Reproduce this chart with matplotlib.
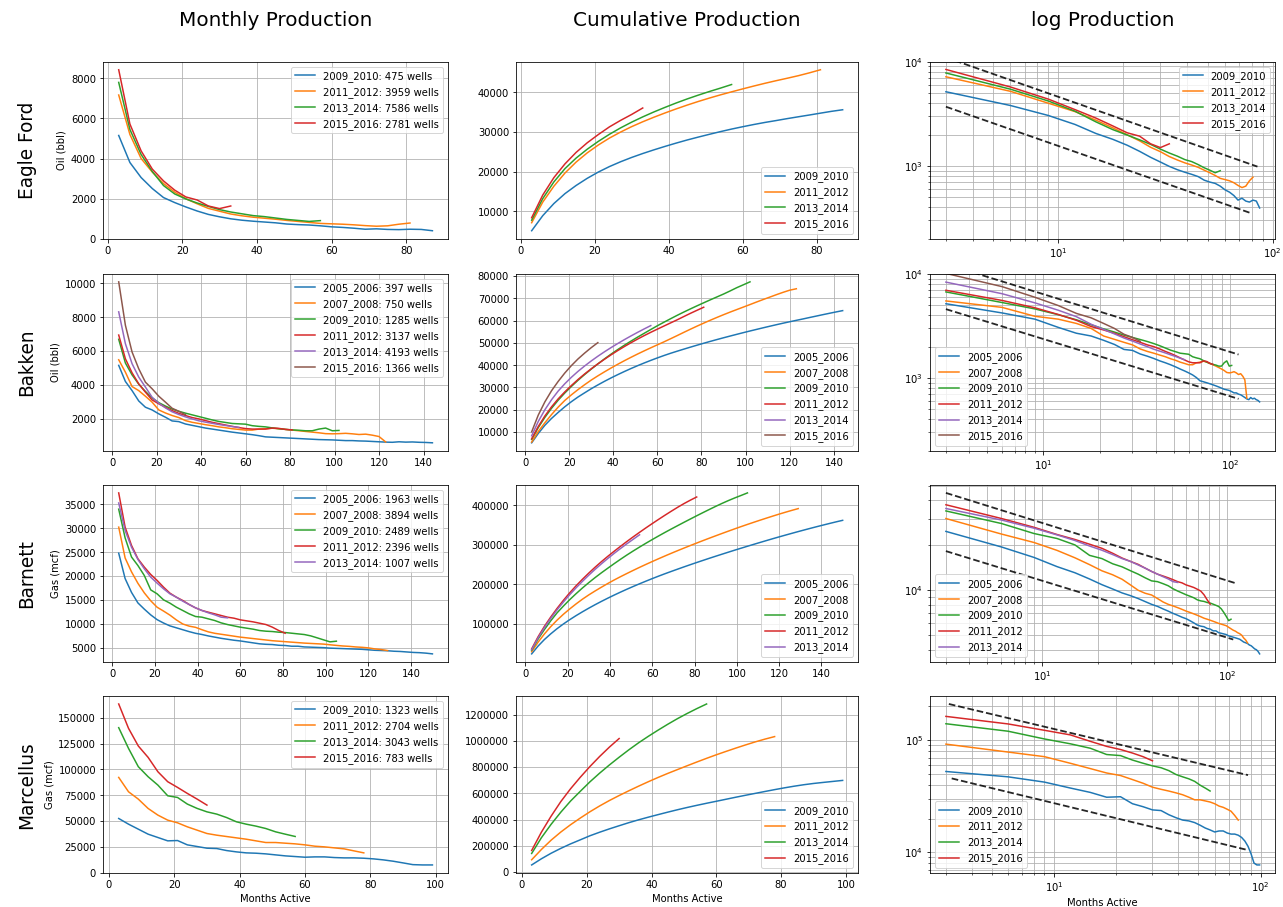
import numpy as np
import matplotlib
matplotlib.use("Agg")
import matplotlib.pyplot as plt
from matplotlib.ticker import ScalarFormatter, MultipleLocator

# ------------------------------------------------------------------ data
# production per 3-month step (month 3, 6, 9, ...)
MONTH_STEP = 3

eagle_vintages = ["2009_2010", "2011_2012", "2013_2014", "2015_2016"]
eagle_wells = [475, 3959, 7586, 2781]
eagle_2009_2010 = [5150, 3800, 3050, 2500, 2050, 1800, 1580, 1380, 1210, 1090, 990, 920, 870, 830, 790,
                   730, 700, 680, 640, 590, 560, 520, 470, 490, 460, 450, 470, 460, 395]
eagle_2011_2012 = [7170, 5200, 4000, 3320, 2750, 2320, 1990, 1740, 1510, 1370, 1230, 1140, 1070, 1020,
                   970, 910, 860, 810, 760, 740, 720, 690, 650, 620, 640, 720, 780]
eagle_2013_2014 = [7800, 5450, 4200, 3350, 2650, 2230, 1980, 1780, 1610, 1450, 1330, 1240, 1150, 1100,
                   1030, 960, 910, 860, 900]
eagle_2015_2016 = [8430, 5720, 4380, 3470, 2880, 2420, 2080, 1930, 1630, 1500, 1630]
eagle_upper_x, eagle_upper_y = [3, 85], [11000, 985]
eagle_lower_x, eagle_lower_y = [3, 80], [3700, 350]

bakken_vintages = ["2005_2006", "2007_2008", "2009_2010", "2011_2012", "2013_2014", "2015_2016"]
bakken_wells = [397, 750, 1285, 3137, 4193, 1366]
bakken_2005_2006 = [5160, 4210, 3670, 3060, 2690, 2530, 2300, 2100, 1880, 1840, 1700, 1620, 1540, 1460,
                    1400, 1340, 1280, 1220, 1170, 1120, 1070, 1010, 940, 920, 900, 880, 860, 840, 820,
                    800, 780, 770, 760, 740, 720, 720, 700, 690, 670, 650, 630, 620, 650, 630, 640, 620,
                    610, 590]
bakken_2007_2008 = [5490, 4760, 3910, 3670, 3340, 2990, 2530, 2350, 2200, 2080, 1900, 1800, 1730, 1660,
                    1600, 1530, 1480, 1420, 1380, 1340, 1340, 1400, 1420, 1450, 1420, 1380, 1340, 1300,
                    1260, 1220, 1180, 1130, 1120, 1130, 1150, 1120, 1080, 1100, 1040, 960, 640]
bakken_2009_2010 = [6700, 5300, 4600, 4050, 3620, 3240, 2960, 2760, 2580, 2450, 2340, 2240, 2140, 2040,
                    1940, 1850, 1790, 1730, 1710, 1690, 1600, 1560, 1530, 1470, 1420, 1380, 1350, 1330,
                    1300, 1300, 1400, 1460, 1300, 1320]
bakken_2011_2012 = [6950, 5550, 4720, 4070, 3580, 3120, 2890, 2690, 2490, 2330, 2200, 2080, 2000, 1900,
                    1800, 1720, 1640, 1560, 1490, 1430, 1400, 1400, 1400, 1460, 1440, 1380, 1350]
bakken_2013_2014 = [8320, 6440, 5260, 4470, 3880, 3280, 2930, 2650, 2420, 2260, 2120, 2000, 1890, 1810,
                    1740, 1670, 1610, 1550, 1500]
bakken_2015_2016 = [10090, 7530, 5950, 4960, 4170, 3780, 3340, 2990, 2630, 2450, 2250]
bakken_upper_x, bakken_upper_y = [3, 111], [12400, 1680]
bakken_lower_x, bakken_lower_y = [3, 111], [4580, 631]

barnett_vintages = ["2005_2006", "2007_2008", "2009_2010", "2011_2012", "2013_2014"]
barnett_wells = [1963, 3894, 2489, 2396, 1007]
barnett_2005_2006 = [24800, 19500, 16600, 14400, 13100, 11900, 10900, 10200, 9600, 9200, 8800, 8400, 8050,
                     7800, 7500, 7250, 7000, 6800, 6600, 6450, 6250, 6050, 5850, 5750, 5700, 5550, 5500,
                     5350, 5350, 5200, 5150, 5100, 5050, 4950, 4900, 4850, 4800, 4750, 4700, 4600, 4500,
                     4450, 4400, 4300, 4250, 4150, 4050, 4000, 3900, 3750]
barnett_2007_2008 = [30250, 23800, 20900, 18500, 16500, 14850, 13500, 12700, 11850, 10850, 10000, 9550,
                     9300, 8800, 8350, 8050, 7850, 7650, 7450, 7250, 7100, 6950, 6800, 6650, 6500, 6400,
                     6300, 6200, 6100, 6000, 5930, 5860, 5790, 5650, 5520, 5400, 5320, 5200, 5120, 5000,
                     4790, 4650, 4440]
barnett_2009_2010 = [34000, 28000, 24000, 22220, 20130, 17130, 16300, 15050, 14350, 13510, 12820, 12120,
                     11560, 11420, 11070, 10720, 10230, 9880, 9600, 9330, 9120, 8910, 8630, 8490, 8420,
                     8280, 8210, 8070, 7930, 7790, 7510, 7100, 6680, 6260, 6400]
barnett_2011_2012 = [37400, 30250, 26420, 23630, 21890, 20350, 19100, 17700, 16440, 15600, 14910, 14070,
                     13370, 12820, 12460, 12120, 11770, 11420, 11210, 10860, 10650, 10440, 10160, 9880,
                     9330, 8630, 8070]
barnett_2013_2014 = [35300, 29550, 26060, 23490, 21540, 19790, 18540, 17350, 16300, 15600, 14770, 14070,
                     13370, 12820, 12330, 11910, 11420, 11280]
barnett_upper_x, barnett_upper_y = [3, 110], [44900, 11200]
barnett_lower_x, barnett_lower_y = [3, 108], [18300, 4680]

marcellus_vintages = ["2009_2010", "2011_2012", "2013_2014", "2015_2016"]
marcellus_wells = [1323, 2704, 3043, 783]
marcellus_2009_2010 = [52580, 47100, 42260, 37420, 34200, 30970, 31290, 27100, 25490, 23870, 23550, 21610,
                       20320, 19360, 19030, 18390, 17420, 16450, 15810, 15160, 15480, 15480, 14840, 14520,
                       14520, 14190, 13550, 12580, 11290, 9680, 8000, 7700, 7700]
marcellus_2011_2012 = [92260, 78390, 71290, 62260, 55810, 50970, 48390, 44520, 41290, 38070, 36450, 35160,
                       33870, 32580, 30970, 29360, 29360, 28710, 28070, 27100, 25810, 25160, 24190, 23230,
                       21290, 19360]
marcellus_2013_2014 = [140300, 120300, 102600, 92900, 84800, 74500, 72900, 66500, 62300, 59000, 56800,
                       53500, 49400, 47100, 45200, 42900, 39700, 37400, 35200]
marcellus_2015_2016 = [163200, 139700, 122600, 111600, 97700, 88100, 82600, 76800, 71300, 65500]
marcellus_upper_x, marcellus_upper_y = [3.1, 87], [210600, 48800]
marcellus_lower_x, marcellus_lower_y = [3.2, 86], [45600, 10500]

basin_names = ["Eagle Ford", "Bakken", "Barnett", "Marcellus"]
units = ["Oil (bbl)", "Oil (bbl)", "Gas (mcf)", "Gas (mcf)"]
column_titles = ["Monthly Production", "Cumulative Production", "log Production"]
x_label = "Months Active"

basins = [
    (eagle_vintages, eagle_wells,
     [eagle_2009_2010, eagle_2011_2012, eagle_2013_2014, eagle_2015_2016],
     (eagle_upper_x, eagle_upper_y), (eagle_lower_x, eagle_lower_y)),
    (bakken_vintages, bakken_wells,
     [bakken_2005_2006, bakken_2007_2008, bakken_2009_2010, bakken_2011_2012,
      bakken_2013_2014, bakken_2015_2016],
     (bakken_upper_x, bakken_upper_y), (bakken_lower_x, bakken_lower_y)),
    (barnett_vintages, barnett_wells,
     [barnett_2005_2006, barnett_2007_2008, barnett_2009_2010, barnett_2011_2012, barnett_2013_2014],
     (barnett_upper_x, barnett_upper_y), (barnett_lower_x, barnett_lower_y)),
    (marcellus_vintages, marcellus_wells,
     [marcellus_2009_2010, marcellus_2011_2012, marcellus_2013_2014, marcellus_2015_2016],
     (marcellus_upper_x, marcellus_upper_y), (marcellus_lower_x, marcellus_lower_y)),
]
log_ylims = [(200, 10000), (200, 10000), None, None]
log_legend_loc = ["upper right", "lower left", "lower left", "lower left"]
cum_tick_steps = [10000, 10000, 100000, 200000]

# ------------------------------------------------------------------ layout
W, H = 1283, 907
DPI = 72
fig = plt.figure(figsize=((W + 0.3) / DPI, (H + 0.3) / DPI), dpi=DPI)
fig.patch.set_facecolor("white")

col_left = [103, 516, 930]
col_width = [345, 342, 345]
row_top = [62, 274, 485, 696]
row_height = 177


def px_axes(r, c):
    l = col_left[c] / W
    b = 1 - (row_top[r] + row_height) / H
    return fig.add_axes([l, b, col_width[c] / W, row_height / H])


def plain(ax):
    fmt = ScalarFormatter(useOffset=False)
    fmt.set_scientific(False)
    ax.yaxis.set_major_formatter(fmt)


for c, title in enumerate(column_titles):
    fig.text((col_left[c] + col_width[c] / 2) / W, 1 - 20 / H, title,
             ha="center", va="center", fontsize=20)

for r, (vintages, wells, series, upper, lower) in enumerate(basins):
    fig.text(27 / W, 1 - (row_top[r] + row_height / 2) / H, basin_names[r],
             rotation=90, ha="center", va="center", fontsize=18.5)

    ax_m = px_axes(r, 0)
    ax_c = px_axes(r, 1)
    ax_l = px_axes(r, 2)
    for i, (vin, nw, vals) in enumerate(zip(vintages, wells, series)):
        vals = np.asarray(vals, dtype=float)
        months = np.arange(1, len(vals) + 1) * MONTH_STEP
        col = f"C{i}"
        ax_m.plot(months, vals, color=col, lw=1.5, label=f"{vin}: {nw} wells")
        ax_c.plot(months, np.cumsum(vals), color=col, lw=1.5, label=vin)
        ax_l.plot(months, vals, color=col, lw=1.5, label=vin)
    ax_l.plot(upper[0], upper[1], "k--", lw=1.8, alpha=0.85)
    ax_l.plot(lower[0], lower[1], "k--", lw=1.8, alpha=0.85)
    ax_l.set_xscale("log")
    ax_l.set_yscale("log")
    if log_ylims[r] is not None:
        ax_l.set_ylim(*log_ylims[r])

    ax_c.yaxis.set_major_locator(MultipleLocator(cum_tick_steps[r]))
    plain(ax_m)
    plain(ax_c)

    ax_m.grid(True)
    ax_c.grid(True)
    ax_l.grid(True, which="both")
    ax_m.set_ylabel(units[r])
    ax_m.legend(loc="upper right")
    ax_c.legend(loc="lower right")
    ax_l.legend(loc=log_legend_loc[r])
    if r == len(basins) - 1:
        for ax in (ax_m, ax_c, ax_l):
            ax.set_xlabel(x_label)

fig.savefig("out.png", dpi=DPI, facecolor="white")
